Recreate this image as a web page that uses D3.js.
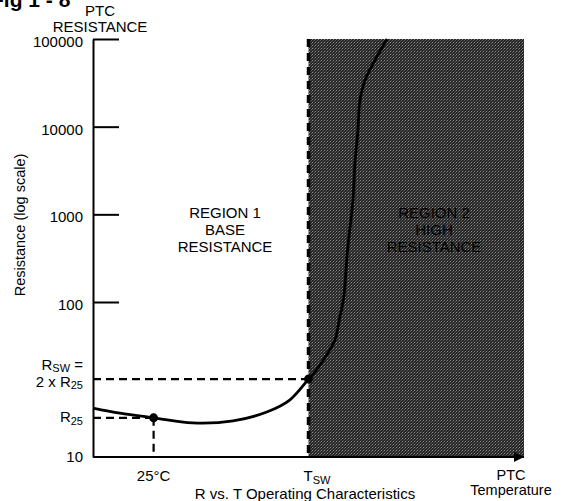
<!DOCTYPE html>
<html>
<head>
<meta charset="utf-8">
<script src="https://cdn.jsdelivr.net/npm/d3@7"></script>
<style>
  html, body { margin: 0; padding: 0; background: #fff; overflow: hidden; }
  svg text { font-family: "Liberation Sans", Arial, Helvetica, sans-serif; fill: #000; }
</style>
</head>
<body>
<svg id="chart" width="562" height="501"></svg>
<script>
// R vs. T curve of a PTC (temperature in °C, resistance in ohms)
var tempC      = [-20, 0, 25, 54, 84, 109, 126, 140, 146, 151, 156, 160, 163, 166, 169, 173, 174.5, 176.7, 178.2, 182, 189.4, 198.3];
var resistance = [20.7, 19.2, 17.9, 16.6, 17.1, 19.5, 23.3, 31.8, 36.5, 42.3, 49.5, 58, 78, 108, 392, 1455, 3846, 9162, 20130, 34040, 57500, 100000];

var yTicks = [10, 100, 1000, 10000, 100000];

// the two marked operating points
var t25 = 25,  r25 = 17.9;
var tSw = 140, rSw = 31.8;

var tMin = -20, tMax = 300;

var svg = d3.select('#chart');

var x = d3.scaleLinear().domain([tMin, tMax]).range([93, 524]);
// schematic axis: bottom decade is stretched, so piecewise log
var y = d3.scaleLog().domain([10, 100, 100000]).range([457, 302, 39]);

// halftone-ish fill for region 2
var defs = svg.append('defs');
var pat = defs.append('pattern')
    .attr('id', 'halftone')
    .attr('patternUnits', 'userSpaceOnUse')
    .attr('width', 3).attr('height', 3);
pat.append('rect').attr('width', 3).attr('height', 3).attr('fill', '#262626');
pat.append('rect').attr('x', 0).attr('y', 0).attr('width', 1).attr('height', 1).attr('fill', '#8c8c8c');
pat.append('rect').attr('x', 2).attr('y', 1).attr('width', 1).attr('height', 1).attr('fill', '#5e5e5e');
pat.append('rect').attr('x', 1).attr('y', 2).attr('width', 1).attr('height', 1).attr('fill', '#4a4a4a');

defs.append('marker')
    .attr('id', 'arrow')
    .attr('viewBox', '0 0 10 10')
    .attr('refX', 10).attr('refY', 5)
    .attr('markerWidth', 14).attr('markerHeight', 10)
    .attr('markerUnits', 'userSpaceOnUse')
    .attr('orient', 'auto')
  .append('path')
    .attr('d', 'M0,0 L10,5 L0,10 z')
    .attr('fill', '#000');

// region 2 block
svg.append('rect')
    .attr('x', x(tSw))
    .attr('y', y(100000))
    .attr('width', x(tMax) - x(tSw))
    .attr('height', y(10) - y(100000))
    .attr('fill', 'url(#halftone)');

svg.append('text')
    .attr('text-anchor', 'middle')
    .attr('font-size', 15)
    .style('fill', '#000')
    .selectAll('tspan')
    .data(['REGION 2', 'HIGH', 'RESISTANCE'])
    .enter().append('tspan')
    .attr('x', 434)
    .attr('y', function(d, i) { return 218 + i * 17 })
    .text(function(d) { return d });

// Tsw boundary
svg.append('line')
    .attr('x1', x(tSw)).attr('x2', x(tSw))
    .attr('y1', y(100000)).attr('y2', y(10))
    .attr('stroke', '#000')
    .attr('stroke-width', 3.5)
    .attr('stroke-dasharray', '8,6');

// y axis, ticks pointing into the plot
var yAxis = d3.axisLeft(y)
    .tickValues(yTicks)
    .tickFormat(d3.format('d'))
    .tickSizeInner(-26)
    .tickSizeOuter(0)
    .tickPadding(10);

var gy = svg.append('g')
    .attr('transform', 'translate(' + x(tMin) + ',0)')
    .call(yAxis);
gy.select('.domain').attr('stroke-width', 2);
gy.selectAll('.tick line').attr('stroke-width', 2);
gy.selectAll('.tick text')
    .attr('font-size', 15)
    .attr('dy', function(d) { return d == 10 ? '0.32em' : '0.5em' })
    .attr('font-family', null);
gy.selectAll('.tick').filter(function(d) { return d == 10 }).select('line').remove();

// x axis with arrow
svg.append('line')
    .attr('x1', x(tMin)).attr('x2', x(tMax))
    .attr('y1', y(10)).attr('y2', y(10))
    .attr('stroke', '#000')
    .attr('stroke-width', 2)
    .attr('marker-end', 'url(#arrow)');

// guide lines to the marked points
var guides = [
    [x(tMin), y(r25), x(t25), y(r25)],
    [x(t25), y(r25), x(t25), y(10)],
    [x(tMin), y(rSw), x(tSw), y(rSw)]
];
svg.selectAll('line.guide')
    .data(guides)
    .enter().append('line')
    .attr('class', 'guide')
    .attr('x1', function(d) { return d[0] })
    .attr('y1', function(d) { return d[1] })
    .attr('x2', function(d) { return d[2] })
    .attr('y2', function(d) { return d[3] })
    .attr('stroke', '#000')
    .attr('stroke-width', 2.2)
    .attr('stroke-dasharray', '8,5');

// the curve
var pts = tempC.map(function(t, i) { return [t, resistance[i]] });
var line = d3.line()
    .x(function(d) { return x(d[0]) })
    .y(function(d) { return y(d[1]) })
    .curve(d3.curveCatmullRom.alpha(0.5));

svg.append('path')
    .datum(pts)
    .attr('d', line)
    .attr('fill', 'none')
    .attr('stroke', '#000')
    .attr('stroke-width', 2.8);

svg.selectAll('circle.op')
    .data([[t25, r25], [tSw, rSw]])
    .enter().append('circle')
    .attr('class', 'op')
    .attr('cx', function(d) { return x(d[0]) })
    .attr('cy', function(d) { return y(d[1]) })
    .attr('r', 4.5)
    .attr('fill', '#000');

// labels
svg.append('text')
    .attr('x', -9).attr('y', 7)
    .attr('font-size', 21)
    .attr('font-weight', 'bold')
    .text('Fig 1 - 8');

svg.append('text')
    .attr('text-anchor', 'middle')
    .attr('font-size', 15)
    .selectAll('tspan')
    .data(['PTC', 'RESISTANCE'])
    .enter().append('tspan')
    .attr('x', 100)
    .attr('y', function(d, i) { return 16 + i * 16 })
    .text(function(d) { return d });

svg.append('text')
    .attr('transform', 'translate(25,225) rotate(-90)')
    .attr('text-anchor', 'middle')
    .attr('font-size', 14.5)
    .text('Resistance (log scale)');

svg.append('text')
    .attr('text-anchor', 'middle')
    .attr('font-size', 15)
    .selectAll('tspan')
    .data(['REGION 1', 'BASE', 'RESISTANCE'])
    .enter().append('tspan')
    .attr('x', 225)
    .attr('y', function(d, i) { return 218 + i * 17 })
    .text(function(d) { return d });

// R_SW = 2 x R_25 and R_25 labels
var rsw = svg.append('text').attr('text-anchor', 'end').attr('font-size', 15)
    .attr('x', 83).attr('y', y(rSw) - 9);
rsw.append('tspan').text('R');
rsw.append('tspan').attr('font-size', 11).attr('dy', 2).text('SW');
rsw.append('tspan').attr('dy', -2).text(' =');
var t2 = svg.append('text').attr('text-anchor', 'end').attr('font-size', 15)
    .attr('x', 83).attr('y', y(rSw) + 8);
t2.append('tspan').text('2 x R');
t2.append('tspan').attr('font-size', 11).attr('dy', 2).text('25');

var r25t = svg.append('text').attr('text-anchor', 'end').attr('font-size', 15)
    .attr('x', 83).attr('y', y(r25) + 4);
r25t.append('tspan').text('R');
r25t.append('tspan').attr('font-size', 11).attr('dy', 3).text('25');

svg.append('text')
    .attr('x', x(t25)).attr('y', 481)
    .attr('text-anchor', 'middle')
    .attr('font-size', 15)
    .text('25°C');

var tsw = svg.append('text')
    .attr('x', x(tSw) - 5).attr('y', 481)
    .attr('font-size', 15);
tsw.append('tspan').text('T');
tsw.append('tspan').attr('font-size', 11).attr('dy', 3).text('SW');

svg.append('text')
    .attr('x', 305).attr('y', 499)
    .attr('text-anchor', 'middle')
    .attr('font-size', 15)
    .text('R vs. T Operating Characteristics');

svg.append('text')
    .attr('text-anchor', 'middle')
    .attr('font-size', 14.5)
    .selectAll('tspan')
    .data(['PTC', 'Temperature'])
    .enter().append('tspan')
    .attr('x', 511)
    .attr('y', function(d, i) { return 480 + i * 15 })
    .text(function(d) { return d });
</script>
</body>
</html>
